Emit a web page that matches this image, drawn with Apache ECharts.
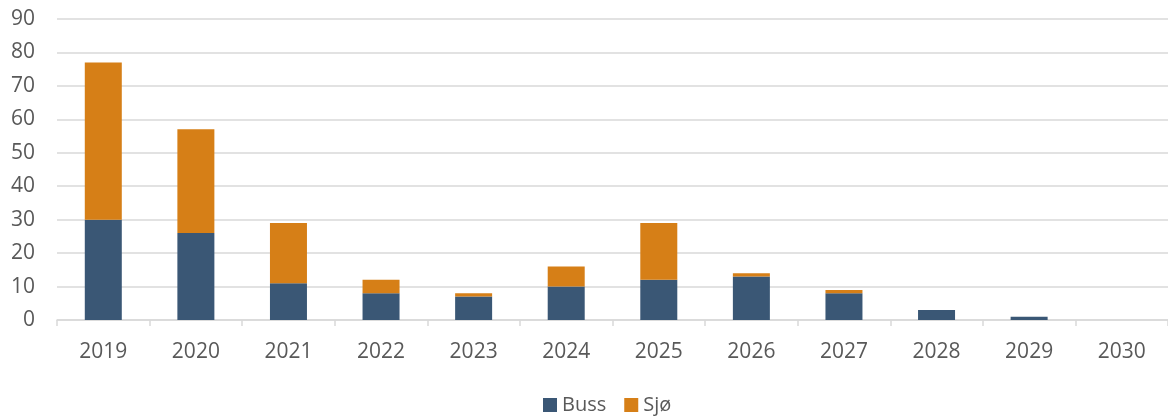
<!DOCTYPE html>
<html><head><meta charset="utf-8">
<script src="https://cdn.jsdelivr.net/npm/echarts@6/dist/echarts.min.js"></script>
<style>html,body{margin:0;padding:0;background:#fff}#c{width:1168px;height:416px}</style>
</head><body><div id="c"></div>
<script>
const categories = ['2019','2020','2021','2022','2023','2024','2025','2026','2027','2028','2029','2030'];
const buss = [30, 26, 11, 8, 7, 10, 12, 13, 8, 3, 1, 0];
const sjo  = [47, 31, 18, 4, 1, 6, 17, 1, 1, 0, 0, 0];
const yTicks = [0, 90, 10];

const chart = echarts.init(document.getElementById('c'), null, {renderer: 'canvas'});
const font = '"Open Sans", "Liberation Sans", sans-serif';
chart.setOption({
  animation: false,
  textStyle: {fontFamily: font},
  grid: {left: 57, top: 19, width: 1116, height: 301, containLabel: false},
  legend: {
    top: 390, left: 538, itemWidth: 14, itemHeight: 14, itemGap: 18,
    icon: 'rect',
    textStyle: {color: '#595959', fontSize: 20, fontFamily: font}
  },
  xAxis: {
    type: 'category', data: categories,
    axisLine: {lineStyle: {color: '#d9d9d9', width: 1.5}},
    axisTick: {show: true, length: 6, lineStyle: {color: '#d9d9d9', width: 1.5}},
    axisLabel: {color: '#595959', fontSize: 21, margin: 22, fontFamily: font}
  },
  yAxis: {
    type: 'value', min: yTicks[0], max: yTicks[1], interval: yTicks[2],
    axisLine: {show: false}, axisTick: {show: false},
    splitLine: {lineStyle: {color: '#d9d9d9', width: 1.5}},
    axisLabel: {color: '#595959', fontSize: 21, margin: 22, fontFamily: font}
  },
  series: [
    {name: 'Buss', type: 'bar', stack: 'a', data: buss, barWidth: 37,
     itemStyle: {color: '#3A5775'}},
    {name: 'Sjø', type: 'bar', stack: 'a', data: sjo, barWidth: 37,
     itemStyle: {color: '#D67F17'}}
  ]
});
</script></body></html>
